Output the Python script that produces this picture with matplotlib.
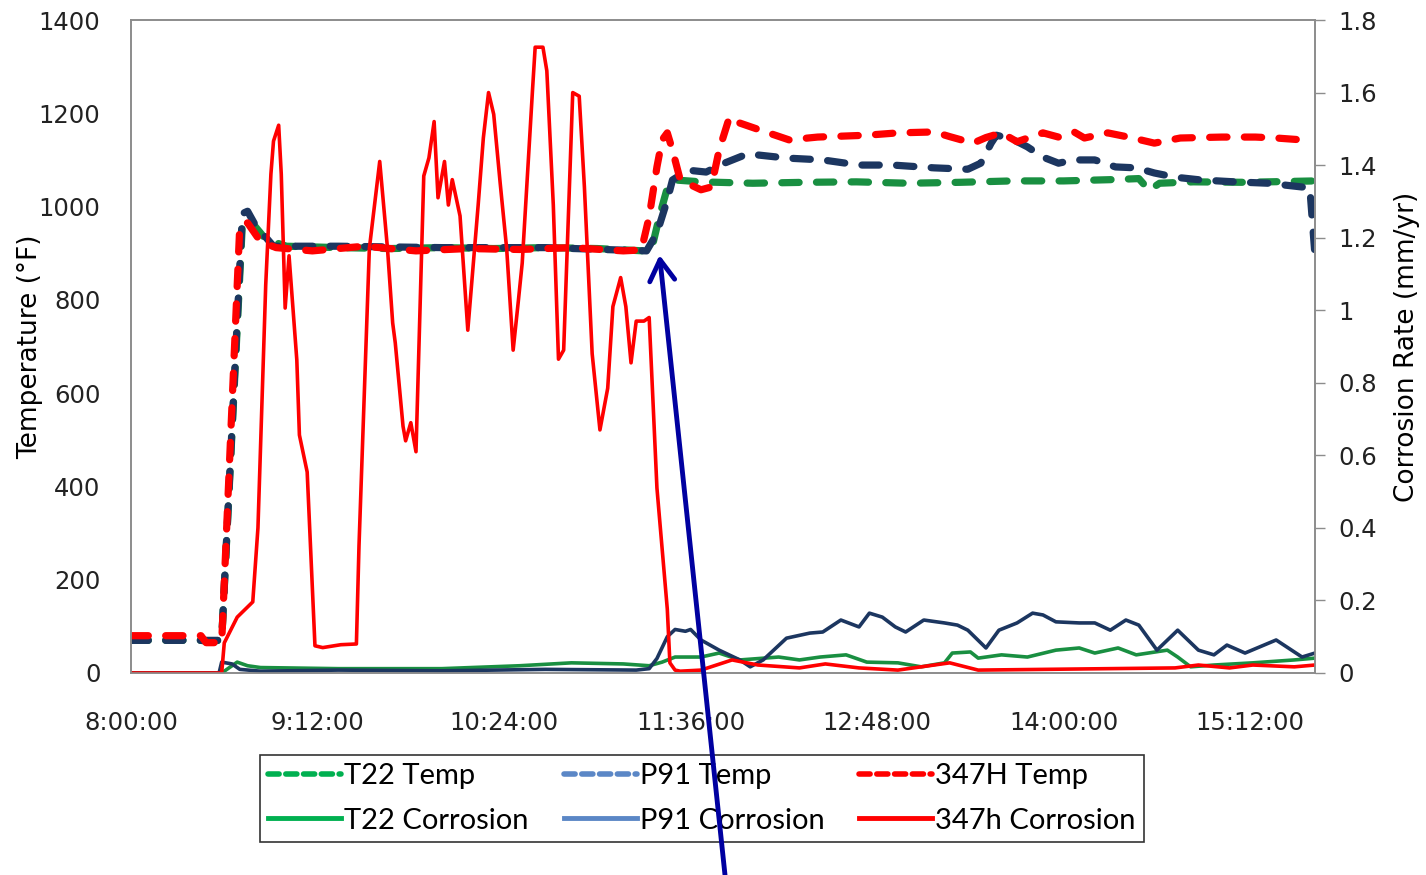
import numpy as np
import matplotlib
matplotlib.use("Agg")
import matplotlib.pyplot as plt
from matplotlib.lines import Line2D

# time axis: minutes after 8:00:00
xtick_min = [0, 72, 144, 216, 288, 360, 432]
xtick_labels = ['8:00:00', '9:12:00', '10:24:00', '11:36:00', '12:48:00', '14:00:00', '15:12:00']

# temperatures (deg F, left axis)
t22_temp_t = [0, 27, 29, 35, 43, 46, 52, 60, 80, 100, 120, 140, 160, 180, 198, 201, 204, 207, 210, 220,
              240, 260, 280, 300, 320, 340, 360, 380, 389, 393, 397, 410, 430, 457]
t22_temp = [70, 70, 68, 70, 965, 970, 930, 915, 912, 910, 912, 910, 912, 910, 905, 910, 980, 1040, 1057, 1053,
            1050, 1052, 1053, 1050, 1052, 1055, 1055, 1058, 1060, 1035, 1050, 1053, 1052, 1055]

p91_temp_t = [0, 35, 43, 45, 48, 55, 80, 120, 160, 199, 203, 207, 209, 215, 222, 229, 238, 253, 267, 281,
              294, 310, 323, 328, 332, 334, 340, 346, 352, 358, 364, 372, 380, 388, 395, 403, 413, 426, 439, 452,
              455, 457]
p91_temp = [70, 70, 985, 990, 960, 915, 915, 912, 912, 905, 943, 1014, 1057, 1078, 1074, 1093, 1113, 1104, 1100, 1089,
            1089, 1083, 1080, 1093, 1136, 1153, 1145, 1128, 1106, 1093, 1100, 1100, 1085, 1083, 1072, 1063, 1057, 1053,
            1050, 1042, 1040, 895]

h347_temp_t = [0, 27, 29, 35, 42, 45, 50, 56, 70, 90, 110, 130, 150, 170, 190, 197, 200, 203, 205, 207,
               209, 212, 220, 224, 227, 231, 235, 246, 254, 265, 284, 296, 310, 316, 325, 330, 336, 342, 352, 358,
               364, 368, 377, 385, 395, 405, 421, 434, 442, 452, 456]
h347_temp = [80, 80, 65, 65, 960, 965, 925, 912, 905, 915, 905, 910, 908, 912, 905, 907, 978, 1085, 1143, 1158,
             1121, 1057, 1036, 1042, 1121, 1192, 1179, 1158, 1143, 1149, 1153, 1158, 1160, 1150, 1136, 1148, 1158,
             1139, 1158, 1149, 1160, 1147, 1158, 1149, 1136, 1147, 1149, 1149, 1147, 1143, 1148]

# corrosion rates (mm/yr, right axis)
t22_corr_t = [0, 35, 37, 41, 45, 50, 80, 120, 150, 170, 190, 200, 205, 210, 220, 227, 235, 250, 258, 266,
              276, 284, 296, 305, 314, 317, 324, 327, 336, 346, 357, 366, 372, 381, 388, 400, 404, 409, 418, 433,
              449, 457]
t22_corr = [0, 0, 0.01, 0.03, 0.02, 0.015, 0.012, 0.012, 0.02, 0.028, 0.025, 0.02, 0.03, 0.044, 0.044, 0.055,
            0.036, 0.044, 0.036, 0.044, 0.05, 0.03, 0.028, 0.017, 0.028, 0.055, 0.058, 0.041, 0.05, 0.044, 0.063,
            0.069, 0.055, 0.069, 0.05, 0.063, 0.044, 0.017, 0.022, 0.028, 0.036, 0.041]

p91_corr_t = [0, 34, 35, 39, 42, 50, 80, 120, 160, 195, 200, 203, 207, 210, 214, 216, 220, 227, 235, 239,
              244, 253, 262, 267, 274, 281, 285, 290, 295, 299, 306, 314, 319, 323, 330, 335, 342, 348, 352, 357,
              366, 372, 378, 384, 389, 396, 404, 412, 418, 423, 430, 442, 452, 457]
p91_corr = [0, 0, 0.03, 0.025, 0.01, 0.005, 0.008, 0.006, 0.01, 0.008, 0.012, 0.04, 0.10, 0.12, 0.115, 0.12,
            0.091, 0.063, 0.036, 0.017, 0.036, 0.096, 0.11, 0.113, 0.146, 0.127, 0.165, 0.154, 0.127, 0.113,
            0.146, 0.138, 0.132, 0.118, 0.069, 0.118, 0.138, 0.165, 0.16, 0.141, 0.138, 0.138, 0.118, 0.146,
            0.132, 0.063, 0.118, 0.063, 0.05, 0.077, 0.055, 0.091, 0.044, 0.055]

h347_corr_t = [0, 35, 36, 41, 47, 49, 52, 54, 55, 57, 58, 59.5, 61, 64, 65, 68, 71, 74, 81, 87,
               88, 92, 96, 99, 101, 102, 105, 106, 108, 110, 113, 115, 117, 118.5, 121, 122.5, 124, 127, 130, 134,
               136, 138, 140, 142.5, 145, 147.5, 149.5, 151, 155, 156, 159, 160.5, 163, 165, 167, 170.5, 173, 175,
               178, 181, 184, 186, 189, 191, 193, 195, 198, 200, 203, 207, 208, 210, 212, 220, 232, 242, 258, 268,
               281, 296, 316, 327, 403, 412, 424, 433, 449, 457]
h347_corr = [0, 0, 0.083, 0.154, 0.196, 0.40, 1.07, 1.375, 1.466, 1.51, 1.375, 1.006, 1.15, 0.863, 0.656, 0.554,
             0.075, 0.07, 0.078, 0.08, 0.35, 1.17, 1.41, 1.17, 0.965, 0.91, 0.68, 0.64, 0.69, 0.61, 1.37, 1.42,
             1.52, 1.31, 1.41, 1.29, 1.36, 1.26, 0.945, 1.29, 1.475, 1.60, 1.54, 1.35, 1.17, 0.89, 1.025, 1.13,
             1.61, 1.725, 1.725, 1.66, 1.29, 0.865, 0.89, 1.60, 1.59, 1.34, 0.88, 0.67, 0.785, 1.01, 1.09, 1.01,
             0.855, 0.97, 0.97, 0.98, 0.51, 0.176, 0.028, 0.008, 0.005, 0.008, 0.036, 0.022, 0.014, 0.025, 0.014,
             0.008, 0.028, 0.008, 0.014, 0.022, 0.014, 0.022, 0.017, 0.022]

green = '#198f41'
navy = '#1c3660'
red = '#ff0000'
legend_font = ['Lato', 'DejaVu Sans']

fig = plt.figure(figsize=(14.26, 8.75), dpi=100)
ax = fig.add_axes([131 / 1426, 1 - 673 / 875, (1315 - 131) / 1426, (673 - 20) / 875])
ax2 = ax.twinx()

dash = dict(lw=5.2, dashes=(2.4, 2.4), dash_capstyle='round', solid_capstyle='round')
ax.plot(t22_temp_t, t22_temp, color=green, **dash)
ax.plot(p91_temp_t, p91_temp, color=navy, **dash)
ax.plot(h347_temp_t, h347_temp, color=red, **dash)

ax2.plot(t22_corr_t, t22_corr, color=green, lw=2.6)
ax2.plot(p91_corr_t, p91_corr, color=navy, lw=2.6)
ax2.plot(h347_corr_t, h347_corr, color=red, lw=2.6)

ax.set_xlim(0, 457)
ax.set_ylim(0, 1400)
ax2.set_ylim(0, 1.8)
ax.set_xticks(xtick_min)
ax.set_xticklabels(xtick_labels)
ax.set_yticks(np.arange(0, 1401, 200))
ax2.set_yticks(np.arange(0, 1.81, 0.2))
ax2.set_yticklabels(['0', '0.2', '0.4', '0.6', '0.8', '1', '1.2', '1.4', '1.6', '1.8'])

for a in (ax, ax2):
    for s in a.spines.values():
        s.set_color('#8c8c8c')
        s.set_linewidth(1.2)
ax.tick_params(axis='y', length=0, labelsize=17.5, colors='#222222', pad=22)
ax.tick_params(axis='x', length=0, labelsize=17.5, colors='#222222', pad=27)
ax2.tick_params(axis='y', length=7, width=1, color='#8c8c8c', labelsize=17.5, labelcolor='#222222', pad=10)

ax.set_ylabel('Temperature (°F)', fontsize=19, labelpad=-3)
ax2.set_ylabel('Corrosion Rate (mm/yr)', fontsize=19, labelpad=12)

handles = [
    Line2D([], [], color='#00b050', lw=4, dashes=(2, 1.2), dash_capstyle='round'),
    Line2D([], [], color='#00b050', lw=3.5),
    Line2D([], [], color='#5b87c6', lw=4, dashes=(2, 1.2), dash_capstyle='round'),
    Line2D([], [], color='#5b87c6', lw=3.5),
    Line2D([], [], color=red, lw=4, dashes=(2, 1.2), dash_capstyle='round'),
    Line2D([], [], color=red, lw=3.5),
]
labels = ['T22 Temp', 'T22 Corrosion', 'P91 Temp', 'P91 Corrosion', '347H Temp', '347h Corrosion']
leg = ax2.legend(handles, labels, ncol=3, loc='center', bbox_to_anchor=(702 / 1426, 1 - 798.5 / 875),
                 bbox_transform=fig.transFigure, frameon=True, fancybox=False, edgecolor='black',
                 prop={'family': legend_font, 'size': 21}, handlelength=2.5, handletextpad=0.1,
                 columnspacing=1.2, labelspacing=0.62, borderpad=0.3)
leg.get_frame().set_linewidth(1.2)
leg.set_zorder(5)

# arrow pointing at the temperature step
ann = ax2.annotate('', xy=(204, 896 * 1.8 / 1400), xycoords='data', xytext=(725 / 1426, 0),
                   textcoords='figure fraction',
                   arrowprops=dict(arrowstyle='->,head_length=0.5,head_width=0.3', color='#0000a0', lw=3.5,
                                   mutation_scale=30, shrinkA=0, shrinkB=0),
                   annotation_clip=False)
ann.set_zorder(10)

fig.savefig('out.png', dpi=100)
